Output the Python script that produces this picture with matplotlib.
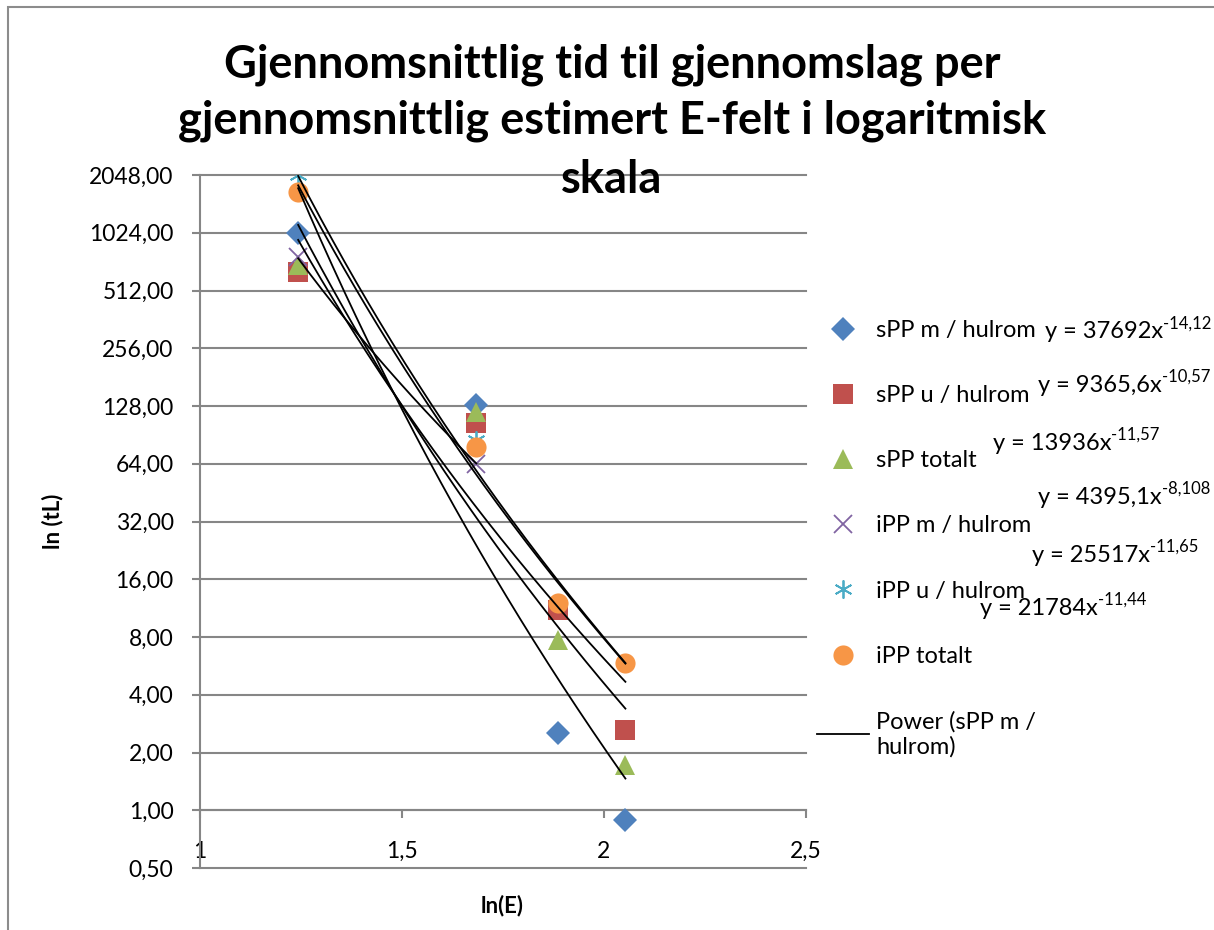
import numpy as np
import matplotlib.pyplot as plt
from matplotlib.patches import Rectangle

plt.rcParams['font.family'] = ['Lato', 'DejaVu Sans']

# ln(E) values (x) and ln(tL) values per series
x_vals = [1.243, 1.684, 1.887, 2.053]
spp_m = [1024, 130, 2.52, 0.887]
spp_u = [640, 104, 11.1, 2.61]
spp_tot = [698, 119, 7.7, 1.72]
ipp_m = [767, 64]
ipp_u = [2048, 85, 12.0, 5.85]
ipp_tot = [1676, 78, 12.0, 5.85]

names = ['sPP m / hulrom', 'sPP u / hulrom', 'sPP totalt',
         'iPP m / hulrom', 'iPP u / hulrom', 'iPP totalt']
colors = ['#4F81BD', '#C0504D', '#9BBB59', '#8064A2', '#4BACC6', '#F79646']
markers = ['D', 's', '^', 'x', (6, 2, 0), 'o']
msizes = [12, 14, 14.5, 12.5, 13, 14.5]

# power trendline coefficients (y = a * x^b) as printed on the chart
trend_a = [37692, 9365.6, 13936, 4395.1, 25517, 21784]
trend_b = [-14.12, -10.57, -11.57, -8.108, -11.65, -11.44]
trend_base = ['y = 37692x', 'y = 9365,6x', 'y = 13936x',
              'y = 4395,1x', 'y = 25517x', 'y = 21784x']
trend_exp = ['-14,12', '-10,57', '-11,57', '-8,108', '-11,65', '-11,44']

yticks = [0.5, 1, 2, 4, 8, 16, 32, 64, 128, 256, 512, 1024, 2048]
xticks = [1, 1.5, 2, 2.5]
xtick_labels = ['1', '1,5', '2', '2,5']

title_lines = ['Gjennomsnittlig tid til gjennomslag per',
               'gjennomsnittlig estimert E-felt i logaritmisk',
               'skala']

W, H = 1214, 930
fig = plt.figure(figsize=(W / 100, H / 100), dpi=100)
fig.patches.append(Rectangle((8 / W, -0.1), 1.2, 1 - 7 / H + 0.1, transform=fig.transFigure,
                             fill=False, edgecolor='#8c8c8c', linewidth=1.5))

ax = fig.add_axes([200 / W, 1 - 868 / H, 606 / W, 693 / H])
ax.set_yscale('log', base=2)
ax.set_ylim(0.5, 2048)
ax.set_xlim(1, 2.5)

series = [spp_m, spp_u, spp_tot, ipp_m, ipp_u, ipp_tot]
handles = []
for i, ys in enumerate(series):
    xs = x_vals[:len(ys)]
    line_marker = markers[i] in ('x', (6, 2, 0))
    h, = ax.plot(xs, ys, linestyle='none', marker=markers[i], color=colors[i],
                 markersize=msizes[i], markeredgewidth=1.3 if line_marker else 0,
                 zorder=3)
    handles.append(h)

trend_handle = None
for i, ys in enumerate(series):
    xs = x_vals[:len(ys)]
    xx = np.linspace(min(xs), max(xs), 200)
    t, = ax.plot(xx, trend_a[i] * xx ** trend_b[i], color='black', linewidth=1.3, zorder=4)
    if trend_handle is None:
        trend_handle = t

ax.set_yticks(yticks)
ax.set_yticklabels([f'{v:.2f}'.replace('.', ',') for v in yticks])
ax.yaxis.set_minor_locator(plt.NullLocator())
ax.set_xticks(xticks)
ax.set_xticklabels(xtick_labels)

ax.grid(axis='y', color='#868686', linewidth=1.5)
for gl in ax.get_ygridlines():
    gl.set_clip_on(False)
ax.set_axisbelow(True)

for s in ['top', 'right']:
    ax.spines[s].set_visible(False)
ax.spines['bottom'].set_position(('data', 1))
for s in ['bottom', 'left']:
    ax.spines[s].set_color('#868686')
    ax.spines[s].set_linewidth(1.5)

ax.tick_params(axis='y', direction='out', length=6, width=1.5, color='#868686',
               labelsize=16.5, pad=13)
ax.tick_params(axis='x', direction='out', length=6, width=1.5, color='#868686',
               labelsize=16.5, pad=16)

for txt, base_y in zip(title_lines, [77, 134, 193]):
    fig.text(612 / W, 1 - base_y / H, txt, ha='center', va='baseline',
             fontsize=32.5, fontweight='bold')
fig.text(53 / W, 1 - 521 / H, 'ln (tL)', rotation=90, ha='center', va='center',
         fontsize=16, fontweight='bold')
fig.text(502 / W, 1 - 906 / H, 'ln(E)', ha='center', va='center',
         fontsize=16, fontweight='bold')

fig.legend(handles + [trend_handle], names + ['Power (sPP m /\nhulrom)'],
           loc='upper left', bbox_to_anchor=(817 / W, 1 - 320 / H),
           frameon=False, fontsize=17, borderpad=0, borderaxespad=0,
           handlelength=2.2, handletextpad=0.3, labelspacing=1.87)

eq_pos = [(1045, 332), (1038, 385), (993, 443), (1038, 497), (1032, 555), (980, 608)]
renderer = fig.canvas.get_renderer()
for (px, py), base, sup in zip(eq_pos, trend_base, trend_exp):
    t = fig.text(px / W, 1 - py / H, base, ha='left', va='center', fontsize=17)
    bb = t.get_window_extent(renderer)
    fig.text(bb.x1 / W, (bb.y0 + bb.height * 0.5) / H, sup, ha='left', va='bottom',
             fontsize=12)

fig.savefig('out.png', dpi=100)
